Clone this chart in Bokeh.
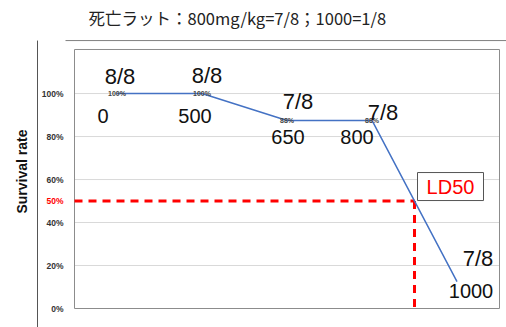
import math
from bokeh.plotting import figure
from bokeh.models import Range1d, ColumnDataSource
from bokeh.core.properties import value
from bokeh.embed import file_html
from bokeh.resources import INLINE

# ---- data ----
doses = ["0", "500", "650", "800", "1000"]
survival = [100, 100, 87.5, 87.5, 12.5]
fractions = ["8/8", "8/8", "7/8", "7/8", "7/8"]
pct_labels = ["100%", "100%", "88%", "88%", ""]
y_ticks = [0, 20, 40, 60, 80, 100]
y_tick_labels = ["0%", "20%", "40%", "60%", "80%", "100%"]
grid_ticks = [20, 40, 60, 80, 100]
ld50_dose_pos = 3.5
ld50_level = 50
ld50_label = "50%"
y_title = "Survival rate"
title_text = "死亡ラット：800mg/kg=7/8；1000=1/8"

# ---- layout (axis box spans x -0.5..4.5, y 0..120.5) ----
X0, X1, Y0, Y1 = -0.5, 4.5, 0.0, 120.5
PX_X, PX_Y = 85.0, 2.15            # pixels per data unit
ML, MR, MT, MB = 74, 7, 49, 19     # margins in px

# ---- label offsets (px) ----
frac_dx = [3, 5, 11, 11, 21]
frac_dy = [-17, -18, -19, -8, -23]
dose_dx = [-14, -7, 1, -15, 14]
dose_dy = [22, 22, 17, 17, 9]

xs = list(range(len(doses)))
src = ColumnDataSource(dict(x=xs, y=survival, frac=fractions, pct=pct_labels,
                            dose=doses, fdx=frac_dx, fdy=frac_dy,
                            ddx=dose_dx, ddy=dose_dy))

p = figure(width=506, height=327, output_backend="svg", toolbar_location=None,
           x_range=Range1d(X0 - ML / PX_X, X1 + MR / PX_X),
           y_range=Range1d(Y0 - MB / PX_Y, Y1 + MT / PX_Y),
           x_axis_location=None, y_axis_location=None,
           min_border=0, min_border_left=0, min_border_right=0,
           min_border_top=0, min_border_bottom=0)
p.grid.visible = False
p.outline_line_color = None
p.background_fill_color = "white"
p.border_fill_color = "white"

FONT = value("Liberation Sans")

def px_x(px):   # canvas x px -> data x
    return X0 + (px - ML) / PX_X

def px_y(py):   # canvas y px (from top) -> data y
    return Y0 + (327 - MB - py) / PX_Y

# outer chart-area lines
p.line(x=[px_x(65), px_x(506)], y=[px_y(40), px_y(40)], line_color="#7f7f7f", line_width=1)
p.line(x=[px_x(37), px_x(37)], y=[px_y(40), px_y(327)], line_color="#555555", line_width=1)

# title
p.text(x=[px_x(88)], y=[px_y(17)], text=[title_text], text_font=value("Noto Sans CJK JP"),
       text_font_size="16.5px", text_color="#222222", text_align="left",
       text_baseline="middle")

# gridlines
p.segment(x0=[X0] * len(grid_ticks), x1=[X1] * len(grid_ticks), y0=grid_ticks,
          y1=grid_ticks, line_color="#d9d9d9", line_width=1)

# axis box
p.quad(left=[X0], right=[X1], bottom=[Y0], top=[Y1], fill_color=None,
       line_color="#8c8c8c", line_width=1)

# y tick labels
p.text(x=[X0] * len(y_ticks), y=y_ticks, text=y_tick_labels, x_offset=-11,
       text_font=FONT, text_font_size="8.5px", text_font_style="bold",
       text_color="#333333", text_align="right", text_baseline="middle")
p.text(x=[X0], y=[ld50_level], text=[ld50_label], x_offset=-11,
       text_font=FONT, text_font_size="8.5px", text_font_style="bold",
       text_color="#ff0000", text_align="right", text_baseline="middle")

# y axis title
p.text(x=[px_x(21)], y=[px_y(171)], text=[y_title], angle=math.pi / 2,
       text_font=FONT, text_font_size="14px", text_font_style="bold",
       text_color="#111111", text_align="center", text_baseline="middle")

# LD50 dashed guide lines
p.line(x=[X0, ld50_dose_pos], y=[ld50_level, ld50_level], line_color="#ff0000",
       line_width=3, line_dash="8 6")
p.line(x=[ld50_dose_pos, ld50_dose_pos], y=[ld50_level, Y0 - 0.5], line_color="#ff0000",
       line_width=3, line_dash="8 6")

# survival line
p.line(x="x", y="y", source=src, line_color="#4472C4", line_width=1.5)

# small percent labels
p.text(x="x", y="y", text="pct", source=src, text_font=FONT,
       text_font_size="7px", text_font_style="bold", text_color="#444444",
       text_align="center", text_baseline="middle")

# fraction labels
p.text(x="x", y="y", text="frac", source=src, x_offset="fdx", y_offset="fdy",
       text_font=FONT, text_font_size="22px", text_color="#111111",
       text_align="center", text_baseline="middle")

# dose labels
p.text(x="x", y="y", text="dose", source=src, x_offset="ddx", y_offset="ddy",
       text_font=FONT, text_font_size="20px", text_color="#111111",
       text_align="center", text_baseline="middle")

# LD50 box
p.rect(x=[px_x(450)], y=[px_y(186)], width=66, height=28, width_units="screen",
       height_units="screen", fill_color="white", line_color="#555555", line_width=1)
p.text(x=[px_x(450)], y=[px_y(186)], text=["LD50"], text_font=FONT,
       text_font_size="20px", text_color="#ff0000", text_align="center",
       text_baseline="middle")

open("out.html", "w").write(file_html(p, INLINE))
